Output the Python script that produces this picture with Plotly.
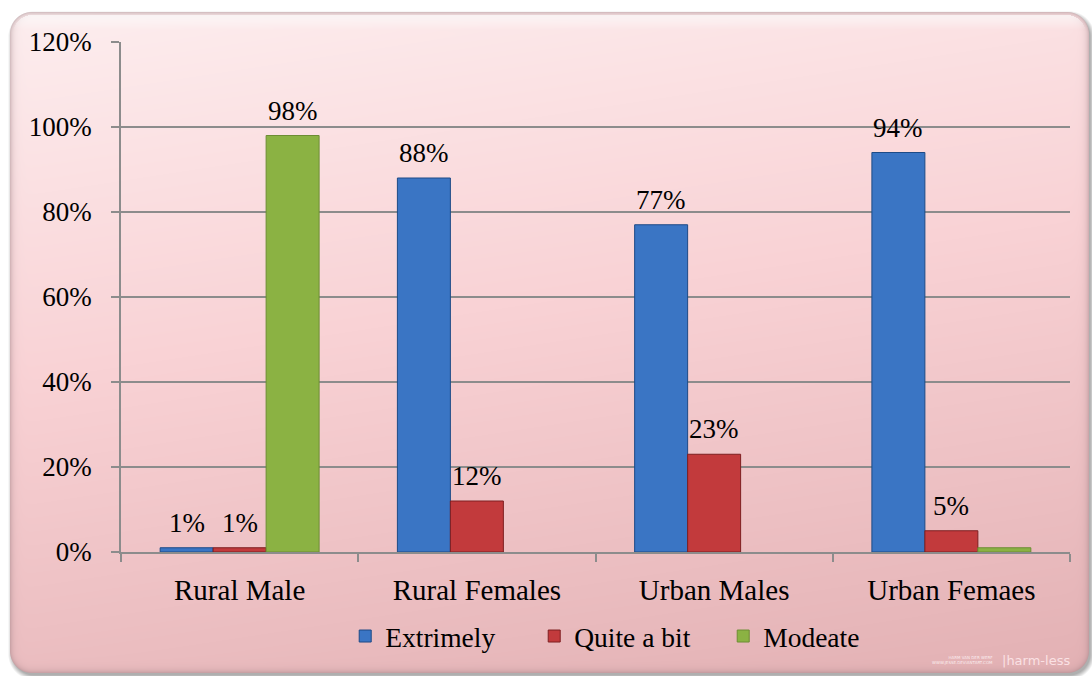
import base64, struct, zlib
import numpy as np
import plotly.graph_objects as go

# ---------------- data ----------------
categories = ["Rural Male", "Rural Females", "Urban Males", "Urban Femaes"]
series_names = ["Extrimely", "Quite a bit", "Modeate"]
extrimely = [1, 88, 77, 94]
quite_a_bit = [1, 12, 23, 5]
modeate = [98, None, None, 1]
# which values carry a data label in the original
extrimely_labeled = [True, True, True, True]
quite_labeled = [True, True, True, True]
modeate_labeled = [True, False, False, False]
y_ticks = [0, 20, 40, 60, 80, 100, 120]
y_tick_labels = ["0%", "20%", "40%", "60%", "80%", "100%", "120%"]

# ---------------- background image (rounded pink panel) ----------------
W, H = 1092, 676
ys, xs = np.mgrid[0:H, 0:W].astype(float) + 0.5


def sdf(cx, cy, hw, hh, r):
    qx = np.abs(xs - cx) - (hw - r)
    qy = np.abs(ys - cy) - (hh - r)
    out = np.hypot(np.maximum(qx, 0), np.maximum(qy, 0))
    ins = np.minimum(np.maximum(qx, qy), 0)
    return out + ins - r


x0, x1, y0, y1, rad = 10, 1089, 12, 673, 22
cx, cy, hw, hh = (x0 + x1) / 2, (y0 + y1) / 2, (x1 - x0) / 2, (y1 - y0) / 2
d = sdf(cx, cy, hw, hh, rad)
ds = sdf(cx + 2, cy + 3, hw, hh, rad)

img = np.ones((H, W, 3)) * 255.0
sh_a = 0.55 * np.clip(1 - (ds + 1) / 5, 0, 1)
img = img * (1 - sh_a[..., None]) + np.array([110, 110, 110]) * sh_a[..., None]

t = np.clip(0.8 * (ys - y0) / (y1 - y0) + 0.2 * (xs - x0) / (x1 - x0), 0, 1)
c0 = np.array([253, 238, 239.0])
c1 = np.array([249, 210, 213.0])
c2 = np.array([227, 177, 180.0])
k = np.clip(t / 0.45, 0, 1)[..., None]
k2 = np.clip((t - 0.45) / 0.55, 0, 1)[..., None]
fill = np.where(t[..., None] < 0.45, c0 * (1 - k) + c1 * k, c1 * (1 - k2) + c2 * k2)
e = -d
dark = (0.45 * np.exp(-np.maximum(e, 0) / 3.0))[..., None]
fill = fill * (1 - dark) + np.array([150, 120, 125.0]) * dark
hl = (0.65 * np.clip(1 - (ys - 16) / 14, 0, 1) * (e > 3))[..., None]
fill = fill * (1 - hl) + 255 * hl
cov = np.clip(0.5 - d, 0, 1)[..., None]
img = img * (1 - cov) + fill * cov
arr = np.clip(img, 0, 255).astype(np.uint8)


def png_uri(a):
    h, w, _ = a.shape
    raw = b"".join(b"\x00" + a[i].tobytes() for i in range(h))

    def chunk(tp, data):
        return struct.pack(">I", len(data)) + tp + data + struct.pack(">I", zlib.crc32(tp + data) & 0xFFFFFFFF)

    png = b"\x89PNG\r\n\x1a\n" + chunk(b"IHDR", struct.pack(">IIBBBBB", w, h, 8, 2, 0, 0, 0)) \
        + chunk(b"IDAT", zlib.compress(raw, 9)) + chunk(b"IEND", b"")
    return "data:image/png;base64," + base64.b64encode(png).decode()


bg_uri = png_uri(arr)

# ---------------- figure ----------------
ML, MR, MT, MB = 121, 22, 42, 124
PW, PH = W - ML - MR, H - MT - MB
FONT = "Liberation Serif"
BARGAP = 0.33
BAR_PX = PW / len(categories) * (1 - BARGAP) / len(series_names)

colors = ["#3a75c4", "#c23a3c", "#8bb243"]
lines = ["#1d4a86", "#7e1f21", "#6d8d34"]
all_vals = [extrimely, quite_a_bit, modeate]
all_masks = [extrimely_labeled, quite_labeled, modeate_labeled]

fig = go.Figure()
annotations = []
for si, (name, vals, mask, c, lc) in enumerate(zip(series_names, all_vals, all_masks, colors, lines)):
    fig.add_trace(go.Bar(
        x=categories, y=vals, name=name,
        marker=dict(color=c, line=dict(color=lc, width=1)),
    ))
    for cat, v, m in zip(categories, vals, mask):
        if m and v is not None:
            annotations.append(dict(
                x=cat, y=v, xref="x", yref="y", text=f"{v}%", showarrow=False,
                xanchor="center", yanchor="bottom",
                xshift=(si - (len(series_names) - 1) / 2) * BAR_PX, yshift=8,
                font=dict(family=FONT, size=27, color="#000000")))

annotations += [
    dict(text="|harm-less", xref="paper", yref="paper", x=(1000 - ML) / PW, y=(552 - 660) / PH,
         showarrow=False, font=dict(family="DejaVu Sans", size=13, color="rgba(255,235,238,0.85)"),
         xanchor="left", yanchor="middle"),
    dict(text="HARM VAN DER WERF<br>WWW.JESSE.DEVIANTART.COM", xref="paper", yref="paper",
         x=(995 - ML) / PW, y=(552 - 660) / PH, showarrow=False, align="right",
         font=dict(family="DejaVu Sans", size=4, color="rgba(255,245,246,0.9)"),
         xanchor="right", yanchor="middle"),
]

fig.update_layout(
    width=W, height=H,
    margin=dict(l=ML, r=MR, t=MT, b=MB, pad=0),
    paper_bgcolor="#ffffff", plot_bgcolor="rgba(0,0,0,0)",
    barmode="group", bargap=BARGAP, bargroupgap=0,
    font=dict(family=FONT, size=27, color="#000000"),
    showlegend=True,
    legend=dict(orientation="h", x=0.535, xanchor="center", y=-0.165, yanchor="middle",
                font=dict(family=FONT, size=27.5, color="#000000"),
                bgcolor="rgba(0,0,0,0)", entrywidth=144, itemwidth=30),
    images=[dict(source=bg_uri, xref="paper", yref="paper",
                 x=-ML / PW, y=1 + MT / PH, sizex=W / PW, sizey=H / PH,
                 xanchor="left", yanchor="top", sizing="stretch", layer="below")],
    annotations=annotations,
)
fig.update_yaxes(range=[0, 120], tickmode="array", tickvals=y_ticks, ticktext=y_tick_labels,
                 showgrid=True, gridcolor="#8c8c8c", gridwidth=1.5,
                 showline=True, linecolor="#8c8c8c", linewidth=1.5,
                 ticks="outside", ticklen=8, tickcolor="#8c8c8c", tickwidth=1.5,
                 ticklabelstandoff=14, zeroline=False,
                 tickfont=dict(family=FONT, size=27, color="#000000"))
fig.update_xaxes(showline=True, linecolor="#8c8c8c", linewidth=1.5,
                 ticks="outside", tickson="boundaries", ticklen=8, tickcolor="#8c8c8c", tickwidth=1.5,
                 ticklabelstandoff=11,
                 showgrid=False, tickfont=dict(family=FONT, size=29, color="#000000"))

fig.write_html("out.html")
